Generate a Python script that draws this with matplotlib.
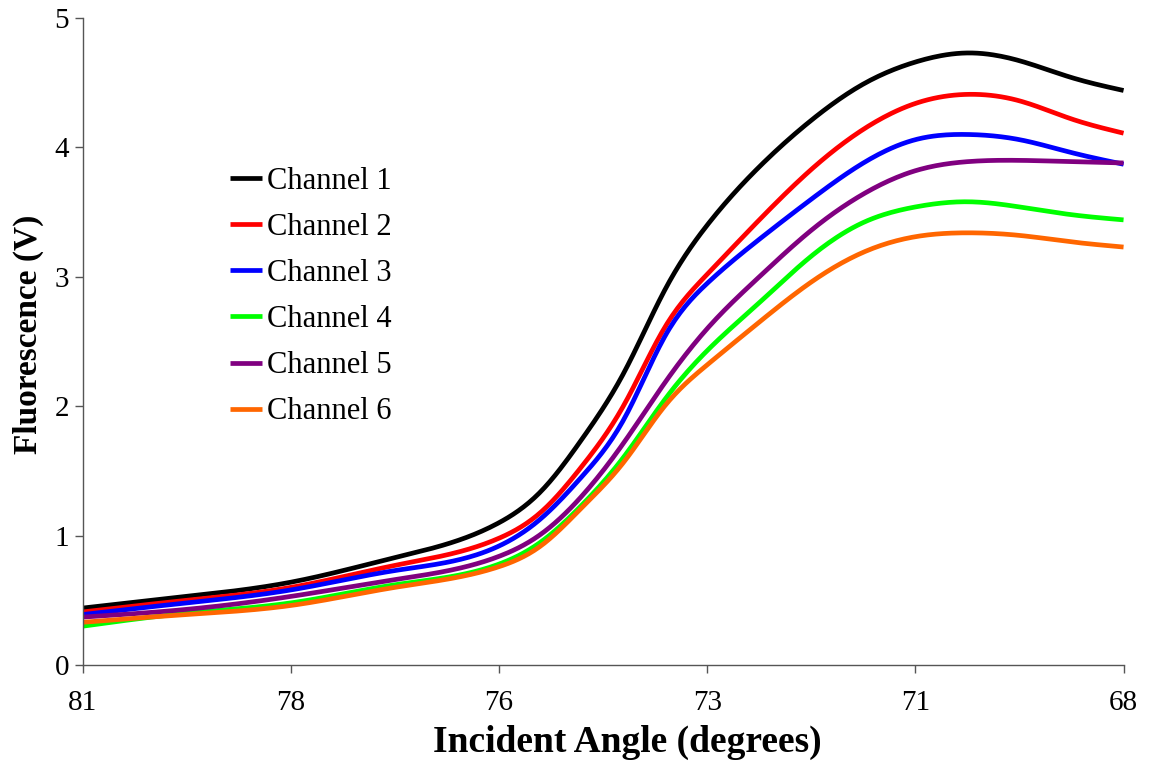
import matplotlib
matplotlib.use("Agg")
import matplotlib.pyplot as plt
import numpy as np

# ── Data ────────────────────────────────────────────────
angle_labels = ["81", "78", "76", "73", "71", "68"]
# sample positions along the category axis (0 = 81°, 5 = 68°)
pos = [0, 0.5, 1, 1.5, 2, 2.2, 2.4, 2.6, 2.8, 3, 3.25, 3.5, 3.75, 4, 4.25, 4.5, 4.75, 5]

ch1 = [0.44, 0.53, 0.64, 0.83, 1.10, 1.34, 1.75, 2.26, 2.91, 3.40, 3.85, 4.21, 4.49, 4.66, 4.73, 4.67, 4.54, 4.44]
ch2 = [0.41, 0.50, 0.60, 0.77, 0.98, 1.18, 1.54, 2.01, 2.62, 3.02, 3.44, 3.83, 4.14, 4.34, 4.41, 4.36, 4.22, 4.11]
ch3 = [0.39, 0.48, 0.58, 0.73, 0.92, 1.13, 1.46, 1.90, 2.55, 2.95, 3.29, 3.60, 3.88, 4.06, 4.10, 4.06, 3.96, 3.87]
ch4 = [0.30, 0.40, 0.48, 0.62, 0.78, 0.95, 1.24, 1.61, 2.06, 2.43, 2.80, 3.16, 3.42, 3.54, 3.58, 3.54, 3.48, 3.44]
ch5 = [0.37, 0.43, 0.53, 0.66, 0.84, 1.01, 1.31, 1.72, 2.19, 2.60, 3.00, 3.36, 3.64, 3.82, 3.89, 3.90, 3.89, 3.88]
ch6 = [0.33, 0.39, 0.46, 0.60, 0.76, 0.92, 1.22, 1.57, 2.01, 2.32, 2.65, 2.96, 3.19, 3.31, 3.34, 3.32, 3.27, 3.23]

series = [
    ("Channel 1", ch1, "#000000"),
    ("Channel 2", ch2, "#FF0000"),
    ("Channel 3", ch3, "#0000FF"),
    ("Channel 4", ch4, "#00FF00"),
    ("Channel 5", ch5, "#800080"),
    ("Channel 6", ch6, "#FF6600"),
]


def smooth(x, y, n=400):
    """Natural cubic spline through the points, for a smoothed line."""
    x = np.asarray(x, float)
    y = np.asarray(y, float)
    m = len(x)
    h = np.diff(x)
    A = np.zeros((m, m))
    b = np.zeros(m)
    A[0, 0] = A[-1, -1] = 1
    for i in range(1, m - 1):
        A[i, i - 1] = h[i - 1]
        A[i, i] = 2 * (h[i - 1] + h[i])
        A[i, i + 1] = h[i]
        b[i] = 6 * ((y[i + 1] - y[i]) / h[i] - (y[i] - y[i - 1]) / h[i - 1])
    M = np.linalg.solve(A, b)
    xs = np.linspace(x[0], x[-1], n)
    k = np.clip(np.searchsorted(x, xs) - 1, 0, m - 2)
    t0 = xs - x[k]
    t1 = x[k + 1] - xs
    hk = h[k]
    ys = (M[k] * t1**3 / (6 * hk) + M[k + 1] * t0**3 / (6 * hk)
          + (y[k] / hk - M[k] * hk / 6) * t1 + (y[k + 1] / hk - M[k + 1] * hk / 6) * t0)
    return xs, ys


plt.rcParams["font.family"] = ["Liberation Serif", "DejaVu Serif"]

W, H = 1150, 764
fig = plt.figure(figsize=(W / 100, H / 100), dpi=100, facecolor="white")
ax = fig.add_axes([0.072, 0.1296, 0.905, 0.8468])

for name, vals, color in series:
    xs, ys = smooth(pos, vals)
    ax.plot(xs, ys, color=color, lw=3.4, label=name, solid_capstyle="butt")

ax.set_xlim(0, 5)
ax.set_ylim(0, 5)
ax.set_xticks(range(len(angle_labels)))
ax.set_xticklabels(angle_labels)
ax.set_yticks([0, 1, 2, 3, 4, 5])

for side in ("top", "right"):
    ax.spines[side].set_visible(False)
for side in ("left", "bottom"):
    ax.spines[side].set_color("#555555")
    ax.spines[side].set_linewidth(1.0)

ax.tick_params(axis="x", direction="out", length=6, width=1, color="#555555",
               labelsize=21, pad=12)
ax.tick_params(axis="y", direction="out", length=6, width=1, color="#555555",
               labelsize=21, pad=4)

# axis titles placed by hand (the x title sits right of centre)
fig.text(627 / W, 1 - 742 / H, "Incident Angle (degrees)", fontsize=27,
         fontweight="bold", ha="center", va="center")
fig.text(28 / W, 1 - 334 / H, "Fluorescence (V)", fontsize=24,
         fontweight="bold", ha="center", va="center", rotation=90)

ax.legend(loc="upper left", bbox_to_anchor=(0.141, 0.77), frameon=False,
          fontsize=22, handlelength=1.05, handletextpad=0.18,
          labelspacing=0.56, borderpad=0, borderaxespad=0)

fig.savefig("out.png", dpi=100, facecolor="white")
